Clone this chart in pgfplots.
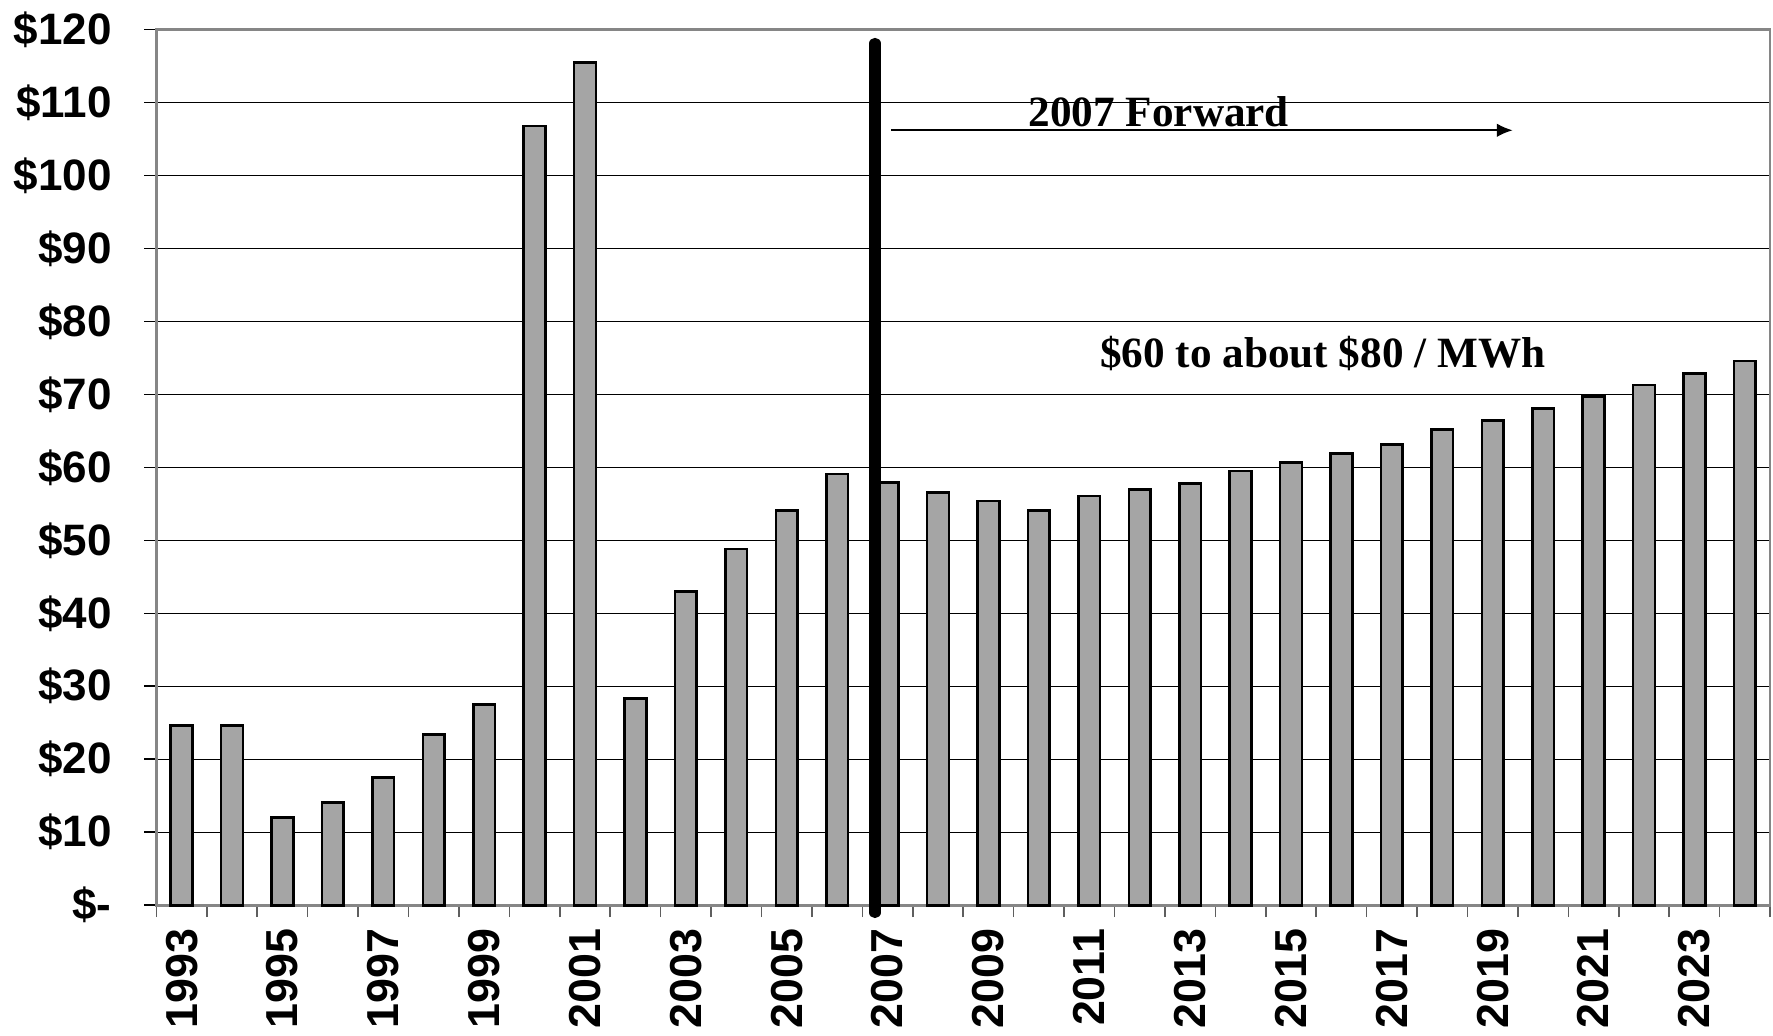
\documentclass[border=0pt]{standalone}
\usepackage{pgfplots}
\pgfplotsset{compat=1.18}
\usetikzlibrary{arrows.meta}
\usepackage{fontspec}
\setmainfont{Liberation Sans}
\newfontfamily\notefont{Liberation Serif}
\definecolor{barfill}{HTML}{A5A5A5}
\definecolor{frame}{HTML}{868686}

\begin{document}
\begin{tikzpicture}
\begin{axis}[
  scale only axis, width=403.4pt, height=218.9pt,
  xmin=-0.5, xmax=31.5, ymin=0, ymax=120,
  axis line style={draw=frame, line width=0.7pt},
  ymajorgrids, grid style={black, line width=0.35pt},
  ytick={0,10,...,120},
  yticklabels={\$-,\$10,\$20,\$30,\$40,\$50,\$60,\$70,\$80,\$90,\$100,\$110,\$120},
  tick align=outside, tick pos=left, major tick length=3pt,
  ytick style={black, line width=0.4pt},
  xtick={-0.5,0.5,...,31.5}, xticklabels={},
  xtick style={draw=frame!70!black, line width=0.4pt},
  extra x ticks={0,2,...,30},
  extra x tick labels={1993,1995,1997,1999,2001,2003,2005,2007,2009,2011,2013,2015,2017,2019,2021,2023},
  extra x tick style={major tick length=0pt, tick style={draw=none}},
  xticklabel style={font=\fontsize{11.2}{12}\selectfont\bfseries,
    rotate=90, anchor=east, inner sep=0pt, xshift=-5.7pt},
  yticklabel style={font=\fontsize{11}{12}\selectfont\bfseries,
    anchor=east, inner sep=0pt, xshift=-8pt},
  ybar, bar width=0.43,
  clip=false,
]
% wholesale price per MWh, 1993 (index 0) to 2024 (index 31)
\addplot[fill=barfill, draw=black, line width=0.65pt] coordinates {
  (0,24.6) (1,24.6) (2,12.0) (3,14.1) (4,17.5) (5,23.4) (6,27.5) (7,106.8)
  (8,115.5) (9,28.3) (10,43.0) (11,48.8) (12,54.1) (13,59.1) (14,57.9) (15,56.6)
  (16,55.4) (17,54.1) (18,56.1) (19,57.0) (20,57.8) (21,59.5) (22,60.7) (23,61.9)
  (24,63.1) (25,65.2) (26,66.4) (27,68.1) (28,69.7) (29,71.3) (30,72.9) (31,74.6)
};
% divider between history and forward prices
\draw[line width=2.8pt, line cap=round] (axis cs:13.75,-1) -- (axis cs:13.75,118.1);
\node[font=\notefont\fontsize{10.8}{12}\selectfont\bfseries, anchor=base, inner sep=0pt]
  at (axis cs:19.38,106.7) {2007 Forward};
\draw[-{Latex[length=4pt,width=3.4pt]}, line width=0.55pt]
  (axis cs:14.07,106.2) -- (axis cs:26.40,106.2);
\node[font=\notefont\fontsize{10.8}{12}\selectfont\bfseries, anchor=base, inner sep=0pt]
  at (axis cs:22.63,73.7) {\$60 to about \$80 / MWh};
\end{axis}
\pgfresetboundingbox
\useasboundingbox (current axis.south west) ++(-39.1pt,-32.7pt) rectangle ++(443.25pt,259pt);
\end{tikzpicture}
\end{document}
